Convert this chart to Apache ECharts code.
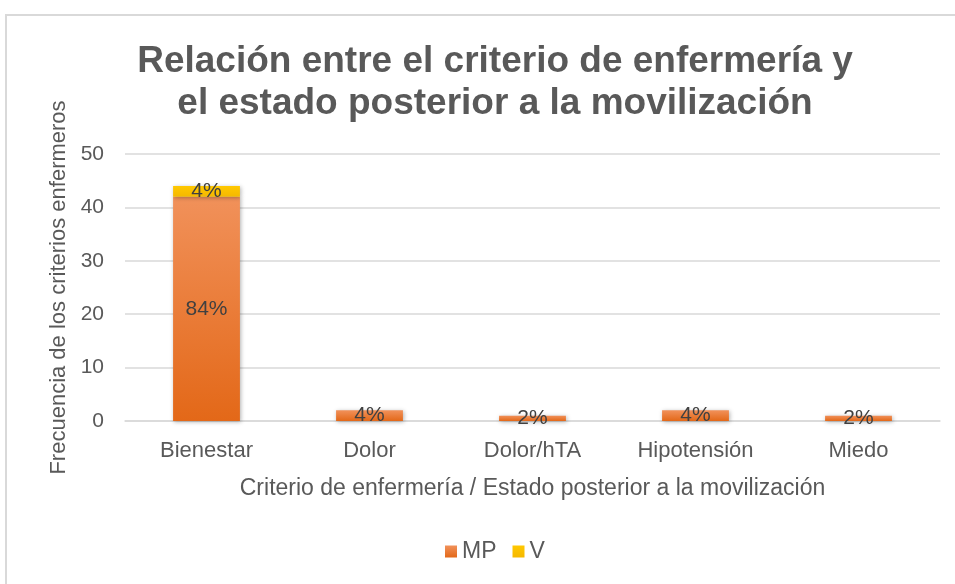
<!DOCTYPE html>
<html>
<head>
<meta charset="utf-8">
<script src="https://cdn.jsdelivr.net/npm/echarts@6/dist/echarts.min.js"></script>
<style>
  html, body { margin: 0; padding: 0; background: #fff; }
  #frame { position: absolute; left: 5px; top: 14px; width: 970px; height: 600px; border: 2px solid #D9D9D9; box-sizing: border-box; }
  #chart { position: absolute; left: 0; top: 0; width: 955px; height: 584px; }
</style>
</head>
<body>
<div id="frame"></div>
<div id="chart"></div>
<script>
const categories = ['Bienestar', 'Dolor', 'Dolor/hTA', 'Hipotensión', 'Miedo'];
const mpValues = [42, 2, 1, 2, 1];
const vValues = [2, 0, 0, 0, 0];
const mpLabels = ['84%', '4%', '2%', '4%', '2%'];
const vLabels = ['4%', '', '', '', ''];
const yTicks = [0, 10, 20, 30, 40, 50];

const font = 'Liberation Sans, Arial, sans-serif';
const chart = echarts.init(document.getElementById('chart'), null, { renderer: 'canvas' });

const mpGradient = new echarts.graphic.LinearGradient(0, 0, 0, 1, [
  { offset: 0, color: '#F1915A' },
  { offset: 1, color: '#E36818' }
]);
const vGradient = new echarts.graphic.LinearGradient(0, 0, 0, 1, [
  { offset: 0, color: '#FFC800' },
  { offset: 1, color: '#F5B800' }
]);

chart.setOption({
  animation: false,
  title: {
    text: 'Relación entre el criterio de enfermería y\nel estado posterior a la movilización',
    left: 490, top: 36, textAlign: 'center',
    textStyle: { fontFamily: font, fontSize: 37, fontWeight: 'bold', color: '#595959', lineHeight: 42 }
  },
  legend: {
    data: ['MP', 'V'],
    bottom: 16, left: 440,
    itemWidth: 12, itemHeight: 12, itemGap: 16,
    icon: 'rect',
    textStyle: { fontFamily: font, fontSize: 23, color: '#595959', padding: [0, 0, 0, 0] }
  },
  grid: { left: 125, right: 15, top: 154, bottom: 163, containLabel: false },
  xAxis: {
    type: 'category', data: categories,
    name: 'Criterio de enfermería / Estado posterior a la movilización',
    nameLocation: 'middle', nameGap: 56,
    nameTextStyle: { fontFamily: font, fontSize: 23, color: '#595959' },
    axisLine: { lineStyle: { color: '#D9D9D9', width: 1.5 } },
    axisTick: { show: false },
    axisLabel: { fontFamily: font, fontSize: 22, color: '#595959', margin: 19 }
  },
  yAxis: {
    type: 'value', min: 0, max: 50, interval: 10,
    name: 'Frecuencia de los criterios enfermeros',
    nameLocation: 'middle', nameGap: 52,
    nameTextStyle: { fontFamily: font, fontSize: 22, color: '#595959' },
    axisLine: { show: false }, axisTick: { show: false },
    axisLabel: { fontFamily: font, fontSize: 21, color: '#595959', margin: 21,
      formatter: v => yTicks.includes(v) ? String(v) : '' },
    splitLine: { lineStyle: { color: '#D9D9D9', width: 1.5 } }
  },
  series: [
    {
      name: 'MP', type: 'bar', stack: 'total', data: mpValues, barWidth: '41%',
      itemStyle: { color: mpGradient, shadowColor: 'rgba(0,0,0,0.3)', shadowBlur: 4, shadowOffsetX: 1, shadowOffsetY: 1 },
      label: { show: true, position: 'inside', fontFamily: font, fontSize: 21, color: '#404040',
        formatter: p => mpLabels[p.dataIndex] }
    },
    {
      name: 'V', type: 'bar', stack: 'total', data: vValues, barWidth: '41%',
      itemStyle: { color: vGradient, shadowColor: 'rgba(0,0,0,0.3)', shadowBlur: 4, shadowOffsetX: 1, shadowOffsetY: 1 },
      label: { show: true, position: 'inside', fontFamily: font, fontSize: 21, color: '#404040',
        formatter: p => vLabels[p.dataIndex] }
    }
  ]
});
</script>
</body>
</html>
